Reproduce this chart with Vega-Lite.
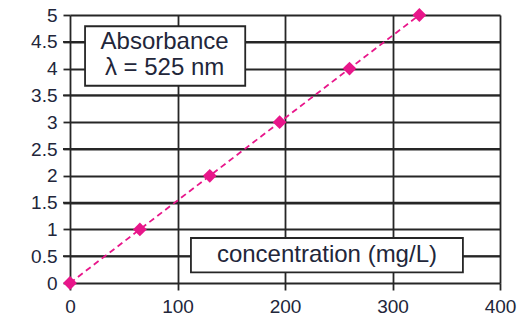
{
  "$schema": "https://vega.github.io/schema/vega-lite/v6.json",
  "width": 430,
  "height": 268,
  "autosize": {"type": "none"},
  "padding": {"left": 70, "top": 15, "right": 24, "bottom": 43},
  "background": "white",
  "config": {
    "view": {"stroke": null},
    "font": "Liberation Sans",
    "axis": {
      "gridColor": "#262626",
      "gridWidth": 1.8,
      "gridOpacity": 1,
      "tickColor": "#262626",
      "tickWidth": 1.8,
      "tickSize": 7,
      "labelFont": "Liberation Sans",
      "labelFontSize": 19,
      "labelColor": "#22263a",
      "labelOverlap": false,
      "labelFlush": false,
      "domain": false,
      "title": null
    },
    "axisX": {"labelPadding": 7},
    "axisY": {"labelPadding": 6}
  },
  "data": {
    "values": [
      {"kind": "grid", "x": -6.5, "x2": 400, "y": 0.5},
      {"kind": "grid", "x": -6.5, "x2": 400, "y": 1.5},
      {"kind": "grid", "x": -6.5, "x2": 400, "y": 2.5},
      {"kind": "grid", "x": -6.5, "x2": 400, "y": 3.5},
      {"kind": "grid", "x": -6.5, "x2": 400, "y": 4.5},
      {"kind": "pt", "x": 0, "y": 0},
      {"kind": "pt", "x": 65, "y": 1},
      {"kind": "pt", "x": 130, "y": 2},
      {"kind": "pt", "x": 195, "y": 3},
      {"kind": "pt", "x": 260, "y": 4},
      {"kind": "pt", "x": 325, "y": 5},
      {"kind": "box", "x": 14, "x2": 163, "y": 3.68, "y2": 4.79},
      {"kind": "box", "x": 112.5, "x2": 365.5, "y": 0.2, "y2": 0.84},
      {"kind": "label", "x": 88, "y": 4.5, "label": ["Absorbance", "λ = 525 nm"]},
      {"kind": "label", "x": 239, "y": 0.52, "label": ["concentration (mg/L)"]}
    ]
  },
  "encoding": {
    "x": {"field": "x", "type": "quantitative", "scale": {"domain": [0, 400], "nice": false},
          "axis": {"grid": true, "values": [0, 100, 200, 300, 400], "format": "d"}},
    "y": {"field": "y", "type": "quantitative", "scale": {"domain": [0, 5], "nice": false},
          "axis": {"grid": true, "values": [0, 0.5, 1, 1.5, 2, 2.5, 3, 3.5, 4, 4.5, 5], "format": "~g"}}
  },
  "layer": [
    {
      "transform": [{"filter": "datum.kind === 'grid'"}],
      "mark": {"type": "rule", "color": "#262626", "strokeWidth": 1.8},
      "encoding": {
        "x2": {"field": "x2"}
      }
    },
    {
      "transform": [{"filter": "datum.kind === 'pt'"}],
      "mark": {"type": "line", "color": "#e8168a", "strokeWidth": 1.8, "strokeDash": [6, 4]}
    },
    {
      "transform": [{"filter": "datum.kind === 'pt'"}],
      "mark": {"type": "point", "shape": "diamond", "filled": true, "color": "#e8168a", "size": 190, "opacity": 1}
    },
    {
      "transform": [{"filter": "datum.kind === 'box'"}],
      "mark": {"type": "rect", "fill": "white", "stroke": "#262626", "strokeWidth": 1.8},
      "encoding": {
        "x2": {"field": "x2"},
        "y2": {"field": "y2"}
      }
    },
    {
      "transform": [{"filter": "datum.kind === 'label'"}],
      "mark": {"type": "text", "fontSize": 24, "color": "#22263a", "align": "center", "baseline": "middle", "lineHeight": 26},
      "encoding": {
        "text": {"field": "label"}
      }
    }
  ]
}
